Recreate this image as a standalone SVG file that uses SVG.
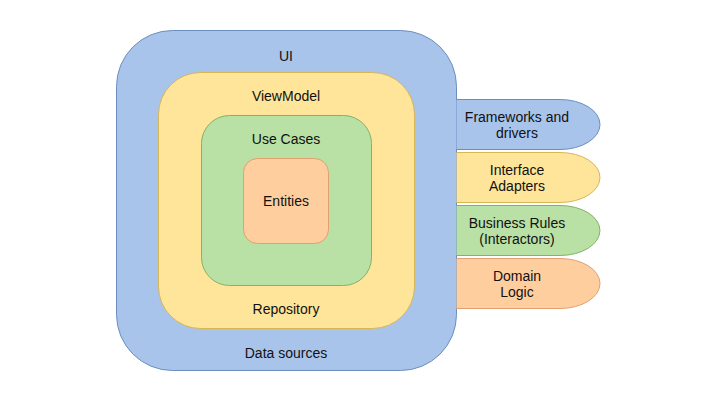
<svg xmlns="http://www.w3.org/2000/svg" width="718" height="402" viewBox="0 0 718 402">
<style>
text{font-family:"Liberation Sans",Arial,sans-serif;font-size:14px;fill:#111;text-anchor:middle}
.blue{fill:#A9C4EB;stroke:#6C8EBF;stroke-width:1}
.yellow{fill:#FFE599;stroke:#D6B656;stroke-width:1}
.green{fill:#B9E0A5;stroke:#82B366;stroke-width:1}
.orange{fill:#FFCE9F;stroke:#E0A070;stroke-width:1}
</style>
<rect width="718" height="402" fill="#fff"/>
<g id="ui">
<rect class="blue" x="116.5" y="30.5" width="340" height="340" rx="56" ry="56"/>
<text x="286" y="61">UI</text>
<text x="286" y="358">Data sources</text>
</g>
<g id="viewmodel">
<rect class="yellow" x="158.5" y="72.5" width="256" height="256" rx="42" ry="42"/>
<text x="286" y="101">ViewModel</text>
<text x="286" y="314">Repository</text>
</g>
<g id="usecases">
<rect class="green" x="201.5" y="115.5" width="170" height="170" rx="28" ry="28"/>
<text x="286" y="144">Use Cases</text>
</g>
<g id="entities">
<rect class="orange" x="243.5" y="158.5" width="85" height="85" rx="14" ry="14"/>
<text x="286" y="206">Entities</text>
</g>
<g id="tab-frameworks">
<path class="blue" d="M456.5 99.5 H560 A40 25 0 0 1 560 149.5 H456.5"/>
<text x="517" y="122">Frameworks and</text>
<text x="517" y="138">drivers</text>
</g>
<g id="tab-interface">
<path class="yellow" d="M456.5 152.5 H560 A40 25 0 0 1 560 202.5 H456.5"/>
<text x="517" y="175">Interface</text>
<text x="517" y="191">Adapters</text>
</g>
<g id="tab-business">
<path class="green" d="M456.5 205.5 H560 A40 25 0 0 1 560 255.5 H456.5"/>
<text x="517" y="228">Business Rules</text>
<text x="517" y="244">(Interactors)</text>
</g>
<g id="tab-domain">
<path class="orange" d="M456.5 258.5 H560 A40 25 0 0 1 560 308.5 H456.5"/>
<text x="517" y="281">Domain</text>
<text x="517" y="297">Logic</text>
</g>
<g id="connectors"/>
</svg>
